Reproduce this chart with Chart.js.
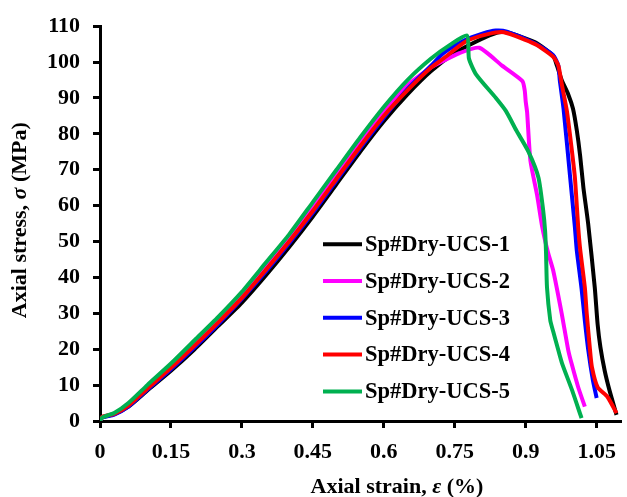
<!DOCTYPE html>
<html>
<head>
<meta charset="utf-8">
<script src="https://cdn.jsdelivr.net/npm/chart.js@4/dist/chart.umd.min.js"></script>
<style>
  html, body { margin: 0; padding: 0; background: #fff; }
  #wrap { width: 627px; height: 497px; }
</style>
</head>
<body>
<div id="wrap"><canvas id="ucsChart" width="627" height="497"></canvas></div>
<script>
'use strict';

// --- data ---
const seriesNames = ['Sp#Dry-UCS-1', 'Sp#Dry-UCS-2', 'Sp#Dry-UCS-3', 'Sp#Dry-UCS-4', 'Sp#Dry-UCS-5'];
const seriesColors = ['#000000', '#ff00ff', '#0000ff', '#ff0000', '#00b050'];

const ucs1Strain = [0, 0.005, 0.03, 0.06, 0.1, 0.15, 0.2, 0.25, 0.3, 0.35, 0.4, 0.45, 0.5, 0.55, 0.6, 0.65, 0.7, 0.75, 0.8, 0.84, 0.86, 0.92, 0.958, 0.966, 0.976, 0.99, 1.0, 1.008, 1.015, 1.022, 1.032, 1.046, 1.052, 1.058, 1.067, 1.077, 1.092];
const ucs1Stress = [0, 1, 1.9, 4, 8.5, 14, 20, 26.5, 33, 40.5, 48.5, 57, 66, 75, 83.5, 91, 97.5, 102.5, 106, 108.2, 108.3, 105.5, 101.8, 99, 95, 91, 87, 81, 74, 65, 55, 37.2, 27, 20.5, 14, 8.6, 1.7];

const ucs2Strain = [0, 0.005, 0.03, 0.06, 0.1, 0.15, 0.2, 0.25, 0.3, 0.35, 0.4, 0.45, 0.5, 0.55, 0.6, 0.65, 0.7, 0.718, 0.76, 0.802, 0.85, 0.893, 0.898, 0.9, 0.903, 0.91, 0.924, 0.935, 0.947, 0.958, 0.976, 0.99, 0.997, 1.011, 1.025];
const ucs2Stress = [0, 1.1, 2, 4.5, 9.3, 15.2, 21.5, 28, 35, 42.8, 51, 59.5, 68.5, 77.5, 86, 93.5, 98.5, 99.8, 102.5, 104, 99, 94.7, 92, 89, 86, 72.5, 63, 54, 47, 42, 30, 19.7, 16, 9.4, 4];

const ucs3Strain = [0, 0.005, 0.03, 0.06, 0.1, 0.15, 0.2, 0.25, 0.3, 0.35, 0.4, 0.45, 0.5, 0.55, 0.6, 0.65, 0.7, 0.726, 0.77, 0.81, 0.837, 0.86, 0.92, 0.958, 0.969, 0.972, 0.98, 0.994, 1.004, 1.008, 1.018, 1.025, 1.032, 1.042, 1.05];
const ucs3Stress = [0, 1, 1.8, 4, 8.7, 14.4, 20.5, 27, 34, 41.5, 49.5, 58, 67, 76, 84.5, 92.5, 99, 102.5, 106, 108, 108.8, 108.5, 105.2, 101.9, 99, 95, 87, 67.8, 54, 47.5, 37, 28, 20, 11.4, 6.4];

const ucs4Strain = [0, 0.005, 0.03, 0.06, 0.1, 0.15, 0.2, 0.25, 0.3, 0.35, 0.4, 0.45, 0.5, 0.55, 0.6, 0.655, 0.7, 0.726, 0.774, 0.82, 0.854, 0.92, 0.958, 0.969, 0.976, 0.987, 0.997, 1.004, 1.011, 1.015, 1.025, 1.029, 1.036, 1.04, 1.052, 1.073, 1.092];
const ucs4Stress = [0, 1.2, 2, 4.3, 9, 14.8, 21, 27.5, 34.3, 42, 50, 58.5, 67.5, 76.5, 85, 92.8, 98.5, 101, 105.8, 107.8, 108.3, 105, 101.5, 99, 94, 86.4, 76, 67.8, 54, 48, 37.2, 30, 19.7, 15, 9.4, 6.7, 2.2];

const ucs5Strain = [0, 0.005, 0.03, 0.06, 0.1, 0.15, 0.2, 0.25, 0.3, 0.35, 0.4, 0.45, 0.5, 0.55, 0.6, 0.65, 0.7, 0.74, 0.776, 0.78, 0.795, 0.837, 0.858, 0.88, 0.906, 0.927, 0.937, 0.941, 0.943, 0.945, 0.952, 0.958, 0.969, 0.977, 0.998, 1.018];
const ucs5Stress = [0, 1, 2.2, 5, 10, 16, 22.5, 29, 36, 44, 52, 61, 70, 79, 87.5, 95, 101, 104.8, 107.4, 101, 96.6, 90, 86.4, 81, 75, 67.8, 58.6, 53, 46.7, 37.2, 28, 25, 19.7, 16, 8.6, 0.8];

const xTicks = [0, 0.15, 0.3, 0.45, 0.6, 0.75, 0.9, 1.05];
const xTickLabels = ['0', '0.15', '0.3', '0.45', '0.6', '0.75', '0.9', '1.05'];

// axis titles: [plain, italic symbol, plain]
const xTitleParts = ['Axial strain, ', 'ε', ' (%)'];
const yTitleParts = ['Axial stress, ', 'σ', ' (MPa)'];

const strains = [ucs1Strain, ucs2Strain, ucs3Strain, ucs4Strain, ucs5Strain];
const stresses = [ucs1Stress, ucs2Stress, ucs3Stress, ucs4Stress, ucs5Stress];

const FONT = '"Liberation Serif", "Times New Roman", serif';

function toPoints(xs, ys) {
  return xs.map((x, i) => ({ x: x, y: ys[i] }));
}

// draws a title made of plain / italic / plain pieces, centred at (0,0) of current transform
function drawMixed(ctx, parts, size) {
  const fonts = ['bold ' + size + 'px ' + FONT, 'italic bold ' + size + 'px ' + FONT, 'bold ' + size + 'px ' + FONT];
  const widths = parts.map((p, i) => { ctx.font = fonts[i]; return ctx.measureText(p).width; });
  let x = -widths.reduce((a, b) => a + b, 0) / 2;
  parts.forEach((p, i) => {
    ctx.font = fonts[i];
    ctx.fillText(p, x, 0);
    x += widths[i];
  });
}

const axisTitles = {
  id: 'axisTitles',
  afterDraw(chart) {
    const { ctx, chartArea } = chart;
    ctx.save();
    ctx.fillStyle = '#000';
    ctx.textBaseline = 'middle';
    ctx.textAlign = 'left';
    ctx.translate(chartArea.left + 297, chartArea.bottom + 66);
    drawMixed(ctx, xTitleParts, 22);
    ctx.restore();

    ctx.save();
    ctx.fillStyle = '#000';
    ctx.textBaseline = 'middle';
    ctx.textAlign = 'left';
    ctx.translate(20, chartArea.top + 194);
    ctx.rotate(-Math.PI / 2);
    drawMixed(ctx, yTitleParts, 22);
    ctx.restore();
  },
};

// legend drawn inside the plot, like the original
const innerLegend = {
  id: 'innerLegend',
  afterDatasetsDraw(chart) {
    const { ctx, chartArea } = chart;
    const x0 = chartArea.left + 223;
    const y0 = chartArea.top + 218;
    const rowH = 36.8;
    ctx.save();
    ctx.font = 'bold 22.5px ' + FONT;
    ctx.textBaseline = 'middle';
    ctx.fillStyle = '#000';
    seriesNames.forEach((name, i) => {
      const y = y0 + i * rowH;
      ctx.strokeStyle = seriesColors[i];
      ctx.lineWidth = 4;
      ctx.beginPath();
      ctx.moveTo(x0, y);
      ctx.lineTo(x0 + 39, y);
      ctx.stroke();
      ctx.fillText(name, x0 + 42, y + 1);
    });
    ctx.restore();
  },
};

const ctx = document.getElementById('ucsChart').getContext('2d');
new Chart(ctx, {
  type: 'scatter',
  data: {
    datasets: seriesNames.map((name, i) => ({
      label: name,
      data: toPoints(strains[i], stresses[i]),
      showLine: true,
      borderColor: seriesColors[i],
      backgroundColor: seriesColors[i],
      borderWidth: 4,
      pointRadius: 0,
      tension: 0.2,
      order: 5 - i,
    })),
  },
  options: {
    responsive: false,
    animation: false,
    layout: { padding: { top: 25, right: 2, left: 0, bottom: 0 } },
    plugins: {
      legend: { display: false },
      tooltip: { enabled: false },
    },
    scales: {
      x: {
        type: 'linear',
        min: 0,
        max: 1.1,
        afterBuildTicks: (scale) => { scale.ticks = xTicks.map(v => ({ value: v })); },
        afterFit: (scale) => { scale.height = 76; },
        border: { color: '#000', width: 3 },
        grid: { drawOnChartArea: false, drawTicks: true, tickLength: 7, color: '#000', lineWidth: 3 },
        ticks: {
          color: '#000',
          padding: 11,
          maxRotation: 0,
          autoSkip: false,
          font: { family: FONT, size: 22, weight: 'bold' },
          callback: (v) => { const k = xTicks.indexOf(v); return k >= 0 ? xTickLabels[k] : ''; },
        },
      },
      y: {
        type: 'linear',
        min: 0,
        max: 110,
        afterFit: (scale) => { scale.width = 100; },
        border: { color: '#000', width: 3 },
        grid: { drawOnChartArea: false, drawTicks: true, tickLength: 7, color: '#000', lineWidth: 3 },
        ticks: {
          stepSize: 10,
          color: '#000',
          padding: 13,
          font: { family: FONT, size: 22, weight: 'bold' },
        },
      },
    },
  },
  plugins: [innerLegend, axisTitles],
});
</script>
</body>
</html>
